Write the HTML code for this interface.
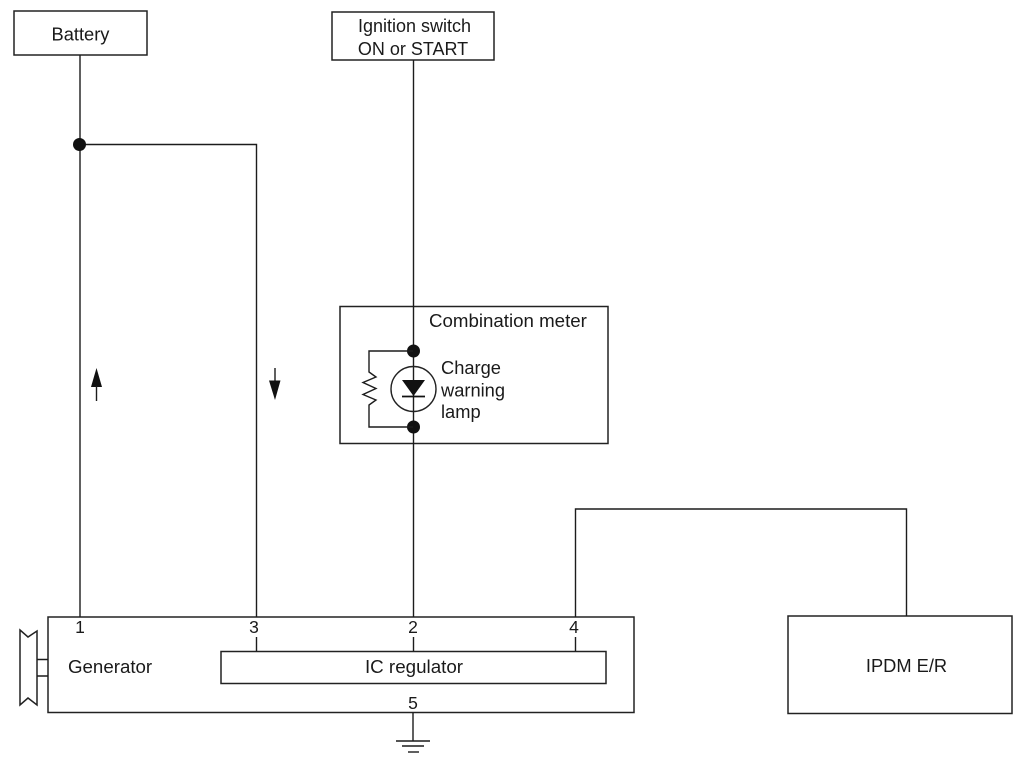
<!DOCTYPE html>
<html>
<head>
<meta charset="utf-8">
<style>
html,body{margin:0;padding:0;background:#fff;}
svg{display:block;}
text{font-family:"Liberation Sans",sans-serif;font-size:18.3px;fill:#1a1a1a;}
text.n{font-size:17.5px;}
.l{fill:none;stroke:#1c1c1c;stroke-width:1.4;}
.b{fill:none;stroke:#222;stroke-width:1.5;}
</style>
</head>
<body>
<svg width="1022" height="763" viewBox="0 0 1022 763" xmlns="http://www.w3.org/2000/svg">
<rect width="1022" height="763" fill="#fff"/>

<!-- boxes -->
<rect class="b" x="14" y="11" width="133" height="44"/>
<rect class="b" x="332" y="12" width="162" height="48"/>
<rect class="b" x="340" y="306.500" width="268" height="137"/>
<rect class="b" x="48" y="617" width="586" height="95.500"/>
<rect class="b" x="221" y="651.500" width="385" height="32"/>
<rect class="b" x="788" y="616" width="224" height="97.500"/>

<!-- wires -->
<path class="l" d="M80 55V617"/>
<path class="l" d="M80 144.500H256.500V617"/>
<path class="l" d="M413.500 60V617"/>
<path class="l" d="M575.500 617V509H906.500V616"/>

<!-- stubs inside generator -->
<path class="l" d="M256.500 637V651M413.500 637V651M575.500 637V651"/>

<!-- ground -->
<path class="l" d="M413 712.500V741"/>
<path class="l" d="M396 741H430"/>
<path class="l" d="M402 746H424"/>
<path class="l" d="M408 752H419"/>

<!-- junctions -->
<circle cx="79.500" cy="144.500" r="6.500" fill="#111"/>
<circle cx="413.500" cy="351" r="6.500" fill="#111"/>
<circle cx="413.500" cy="427" r="6.500" fill="#111"/>

<!-- resistor branch -->
<path class="l" d="M413 351H369V372L376 377L363 382.500L376 388.500L363 394.500L376 400L369 405V427H413"/>

<!-- lamp -->
<circle cx="413.500" cy="389" r="22.500" fill="none" stroke="#222" stroke-width="1.4"/>
<path d="M402 380H425L413.500 396Z" fill="#111"/>
<path d="M402 396.500H425" stroke="#111" stroke-width="1.8" fill="none"/>

<!-- current arrows -->
<path d="M96.500 368L91 387H102Z" fill="#111"/>
<path class="l" d="M96.500 386V401"/>
<path class="l" d="M275 368V382"/>
<path d="M269 380.500H280.500L275 400Z" fill="#111"/>

<!-- pulley -->
<path class="b" d="M20 630L28 637L37 631V705L28 698L20 705Z" stroke-width="1.3"/>
<path class="l" d="M37 659.500H48M37 676H48"/>

<!-- labels -->
<text x="80.500" y="40.500" text-anchor="middle">Battery</text>
<text x="414.500" y="32" text-anchor="middle" style="font-size:18px">Ignition switch</text>
<text x="413" y="55" text-anchor="middle" style="font-size:18px">ON or START</text>
<text x="429" y="327" style="font-size:18.700px">Combination meter</text>
<text x="441" y="374">Charge</text>
<text x="441" y="396.500">warning</text>
<text x="441" y="418">lamp</text>
<text x="68" y="673" style="font-size:18.700px">Generator</text>
<text x="414" y="673" text-anchor="middle" style="font-size:18.800px">IC regulator</text>
<text x="906.500" y="672" text-anchor="middle">IPDM E/R</text>
<text class="n" x="80" y="633" text-anchor="middle">1</text>
<text class="n" x="254" y="633" text-anchor="middle">3</text>
<text class="n" x="413" y="633" text-anchor="middle">2</text>
<text class="n" x="574" y="633" text-anchor="middle">4</text>
<text class="n" x="413" y="709" text-anchor="middle">5</text>
</svg>
</body>
</html>
